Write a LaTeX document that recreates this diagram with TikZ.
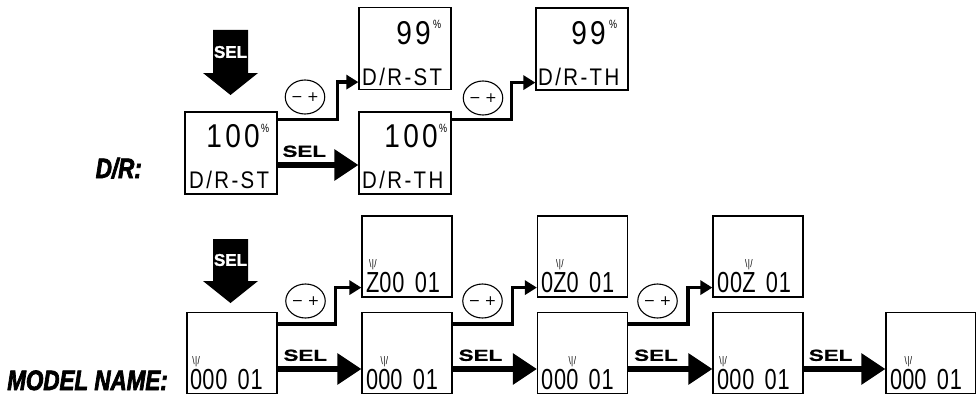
\documentclass[tikz,border=0pt]{standalone}
\usepackage{fontspec}
\setmainfont{Liberation Sans}
\newfontfamily\lcdfont[FakeStretch=0.75,WordSpace=1.5,LetterSpace=3]{Liberation Sans}
\newfontfamily\lcdtext[FakeStretch=0.85,LetterSpace=10]{Liberation Sans}
\newfontfamily\selfont[FakeStretch=1.4,FakeBold=1]{Liberation Sans}
\newfontfamily\selwfont[FakeBold=1.5]{Liberation Sans}
\newfontfamily\keyfont{DejaVu Sans}
\newfontfamily\headfont[FakeStretch=0.8,FakeBold=2.5]{Liberation Sans}
\usetikzlibrary{arrows.meta,shapes.geometric}

% blinking digit
\newcommand{\blink}[1]{\ooalign{#1\cr\hidewidth\raisebox{0.86em}{\fontsize{11}{11}\selectfont\textbackslash\kern0.4pt|\kern0.4pt/}\hidewidth\cr}}

\begin{document}
\begin{tikzpicture}[x=1pt,y=-1pt,
  lcdbox/.style={draw, line width=1.2pt, minimum width=92pt, minimum height=82pt, inner sep=0pt},
  mnbox/.style={draw, line width=1.2pt, minimum width=90pt, minimum height=81pt, inner sep=0pt},
  lcd/.style={inner sep=0pt, font={\lcdfont\fontsize{29}{29}\selectfont}},
  lcdname/.style={inner sep=0pt, font={\lcdtext\fontsize{24}{24}\selectfont}},
  bigdigit/.style={inner sep=0pt, font={\lcdtext\fontsize{33}{33}\selectfont}},
  pct/.style={inner sep=0pt, font={\lcdfont\fontsize{12}{12}\selectfont}},
  pmline/.style={line width=3.5pt, -{Triangle[length=12pt,width=14pt]}},
  selline/.style={line width=6pt, -{Triangle[length=24pt,width=30pt]}},
  sellabel/.style={above=5pt, inner sep=0pt, font={\selfont\bfseries\fontsize{16}{16}\selectfont}},
  selwhite/.style={text=white, inner sep=0pt, font={\selwfont\bfseries\fontsize{17}{17}\selectfont}},
  pmkey/.style={draw, ellipse, line width=1.1pt, minimum width=38pt, minimum height=34pt, inner sep=0pt, font={\keyfont\fontsize{14}{14}\selectfont}},
  head/.style={inner sep=0pt, font={\headfont\bfseries\itshape\fontsize{28}{28}\selectfont}}]

\useasboundingbox (0,0) rectangle (976,396);

% D/R
\node[head, anchor=base east] (drtitle) at (142,178) {D/R:};

\fill (213,30) -- (248,30) -- (248,73) -- (258,73) -- (230.5,95) -- (203,73) -- (213,73) -- cycle;
\node[selwhite] (seldown1) at (230.5,52) {SEL};

\node[lcdbox] (dr1) at (231,153) {};
\node[bigdigit, anchor=base east] (dr1v) at (260,147) {100};
\node[pct, anchor=base west] (dr1p) at (261,132) {\%};
\node[lcdname, anchor=base west] (dr1n) at (189,188) {D/R-ST};

\node[lcdbox] (dr2) at (405,48.5) {};
\node[bigdigit, anchor=base east] (dr2v) at (431,45) {99};
\node[pct, anchor=base west] (dr2p) at (433,29) {\%};
\node[lcdname, anchor=base west] (dr2n) at (362,85) {D/R-ST};

\node[lcdbox] (dr3) at (405,153) {};
\node[bigdigit, anchor=base east] (dr3v) at (438,147) {100};
\node[pct, anchor=base west] (dr3p) at (439,132) {\%};
\node[lcdname, anchor=base west] (dr3n) at (362,188) {D/R-TH};

\node[lcdbox] (dr4) at (582,49) {};
\node[bigdigit, anchor=base east] (dr4v) at (606,45) {99};
\node[pct, anchor=base west] (dr4p) at (609,29) {\%};
\node[lcdname, anchor=base west] (dr4n) at (538,85) {D/R-TH};

\draw[pmline] ([yshift=-8pt]dr1.north east) -- ++(60,0) |- ([yshift=8pt]dr2.south west);
\node[pmkey] (pm1) at (305,97) {− +};
\draw[selline] ([yshift=-12pt]dr1.east) -- node[sellabel, pos=0.33] (sel1) {SEL} ([yshift=-12pt]dr3.west);
\draw[pmline] ([yshift=-8pt]dr3.north east) -- ++(60,0) |- ([yshift=8pt]dr4.south west);
\node[pmkey] (pm2) at (483,98) {− +};

% MODEL NAME
\node[head, anchor=base east] (mntitle) at (168,390) {MODEL NAME:};

\fill (213,239) -- (248,239) -- (248,281) -- (258,281) -- (230.5,303) -- (203,281) -- (213,281) -- cycle;
\node[selwhite] (seldown2) at (230.5,260) {SEL};

\node[mnbox] (mn1) at (232,353) {};
\node[lcd, anchor=base west] (mn1t) at (190,389) {\blink{0}00 01};
\node[mnbox] (mn2a) at (407,256.5) {};
\node[lcd, anchor=base west] (mn2at) at (366,292) {\blink{Z}00 01};
\node[mnbox] (mn2b) at (407,353) {};
\node[lcd, anchor=base west] (mn2bt) at (366,389) {0\blink{0}0 01};
\node[mnbox] (mn3a) at (582.5,256.5) {};
\node[lcd, anchor=base west] (mn3at) at (541,292) {0\blink{Z}0 01};
\node[mnbox] (mn3b) at (582.5,353) {};
\node[lcd, anchor=base west] (mn3bt) at (541,389) {00\blink{0} 01};
\node[mnbox] (mn4a) at (758,256.5) {};
\node[lcd, anchor=base west] (mn4at) at (717,292) {00\blink{Z} 01};
\node[mnbox] (mn4b) at (758,353) {};
\node[lcd, anchor=base west] (mn4bt) at (717,389) {\blink{0}00 01};
\node[mnbox] (mn5) at (931,353) {};
\node[lcd, anchor=base west] (mn5t) at (890,389) {0\blink{0}0 01};

\draw[pmline] ([yshift=-12pt]mn1.north east) -- ++(58,0) |- ([yshift=10pt]mn2a.south west);
\node[pmkey] (pm3) at (305.5,301) {− +};
\draw[pmline] ([yshift=-12pt]mn2b.north east) -- ++(60,0) |- ([yshift=10pt]mn3a.south west);
\node[pmkey] (pm4) at (482.5,301) {− +};
\draw[pmline] ([yshift=-12pt]mn3b.north east) -- ++(60,0) |- ([yshift=10pt]mn4a.south west);
\node[pmkey] (pm5) at (657.5,301) {− +};

\draw[selline] ([yshift=-16pt]mn1.east) -- node[sellabel, pos=0.33] (sel2) {SEL} ([yshift=-16pt]mn2b.west);
\draw[selline] ([yshift=-16pt]mn2b.east) -- node[sellabel, pos=0.33] (sel3) {SEL} ([yshift=-16pt]mn3b.west);
\draw[selline] ([yshift=-16pt]mn3b.east) -- node[sellabel, pos=0.33] (sel4) {SEL} ([yshift=-16pt]mn4b.west);
\draw[selline] ([yshift=-16pt]mn4b.east) -- node[sellabel, pos=0.33] (sel5) {SEL} ([yshift=-16pt]mn5.west);

\end{tikzpicture}
\end{document}
